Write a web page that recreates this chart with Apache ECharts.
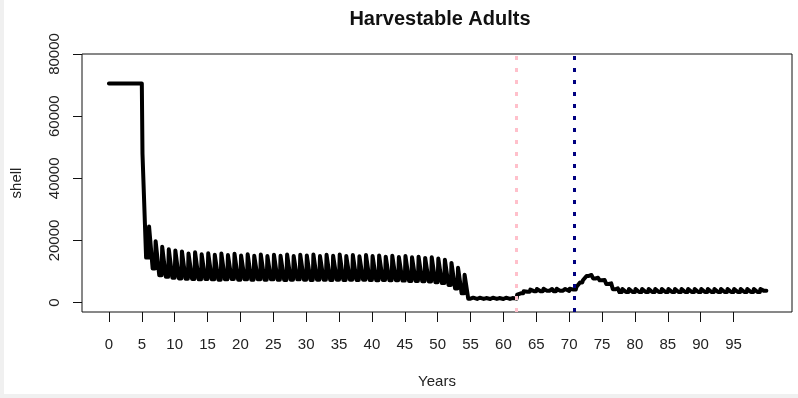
<!DOCTYPE html>
<html>
<head>
<meta charset="utf-8">
<script src="https://cdn.jsdelivr.net/npm/echarts@6/dist/echarts.min.js"></script>
<style>
  html, body { margin: 0; padding: 0; background: #f0f0f0; }
  #paper { position: absolute; left: 4px; top: 0; width: 794px; height: 394px; background: #fff; }
  #chart { position: absolute; left: 0; top: 0; width: 798px; height: 398px; }
</style>
</head>
<body>
<div id="paper"></div>
<div id="chart"></div>
<script>
// shell value at the start of each year (years 0..100)
const shellStart = [
  70500, 70500, 70500, 70500, 70500, 70500, 14500, 11000, 8800, 8300,
  8000, 7800, 7700, 7600, 7500, 7600, 7500, 7400, 7500, 7600,
  7400, 7500, 7400, 7500, 7400, 7500, 7400, 7300, 7400, 7500,
  7400, 7300, 7400, 7400, 7300, 7400, 7300, 7400, 7300, 7400,
  7300, 7200, 7300, 7200, 7200, 7100, 7000, 7000, 6900, 6800,
  6600, 6300, 5700, 4600, 3000, 1300, 1200, 1200, 1200, 1200,
  1200, 1200, 1300, 3000, 3500, 3700, 3700, 3800, 3700, 3800,
  3800, 4200, 6500, 8600, 7800, 7200, 6000, 4300, 3400, 3400,
  3400, 3400, 3400, 3400, 3400, 3400, 3400, 3400, 3400, 3400,
  3400, 3400, 3400, 3400, 3400, 3400, 3400, 3400, 3400, 3400,
  3800
];
// shell value just after the annual pulse of each year (years 0..99)
const shellPulse = [
  70500, 70500, 70500, 70500, 70500, 48000, 24500, 19800, 18000, 17200,
  16800, 16500, 15800, 16200, 15600, 15900, 15400, 15800, 15300, 15700,
  15200, 15600, 15100, 15500, 15000, 15400, 15100, 15500, 15000, 15400,
  15200, 15500, 15000, 15400, 15100, 15500, 15000, 15300, 14900, 15300,
  15000, 15200, 14800, 15100, 14700, 15000, 14600, 14800, 14400, 14600,
  14200, 13800, 12800, 11200, 9000, 1600, 1600, 1500, 1600, 1500,
  1600, 1500, 2600, 3700, 4200, 4400, 4500, 4400, 4500, 4400,
  4500, 5000, 7200, 8900, 8000, 7300, 6200, 4600, 4400, 4400,
  4400, 4400, 4400, 4400, 4400, 4400, 4400, 4400, 4400, 4400,
  4400, 4400, 4400, 4400, 4400, 4400, 4400, 4400, 4400, 4400
];
// timing within each year (fraction of a year)
const pulseAt = 0.1;   // pulse arrives
const holdUntil = 0.4; // pulse level held until here
const lowFrom = 0.65;  // next year's start level reached here
const yearTicks = [0, 5, 10, 15, 20, 25, 30, 35, 40, 45, 50, 55, 60, 65, 70, 75, 80, 85, 90, 95];
const shellTicks = [0, 20000, 40000, 60000, 80000];
const pinkYear = 61.9;
const navyYear = 70.8;

const lineData = [];
for (let k = 0; k < shellStart.length; k++) {
  lineData.push([k, shellStart[k]]);
  if (k < shellPulse.length) {
    lineData.push([k + pulseAt, shellPulse[k]]);
    lineData.push([k + holdUntil, shellPulse[k]]);
    lineData.push([k + lowFrom, shellStart[k + 1]]);
  }
}

const font = 'Liberation Sans, Arial, sans-serif';
const chart = echarts.init(document.getElementById('chart'), null, { renderer: 'canvas' });

chart.setOption({
  animation: false,
  backgroundColor: 'transparent',
  title: {
    text: 'Harvestable Adults',
    left: 435,
    top: 4,
    textAlign: 'center',
    textStyle: { fontFamily: font, fontSize: 20, fontWeight: 'bold', color: '#111' }
  },
  grid: {
    left: 82, right: 6, top: 54, bottom: 86,
    outerBoundsMode: 'none',
    containLabel: false,
    show: true, borderColor: '#111', borderWidth: 1, backgroundColor: 'transparent'
  },
  xAxis: {
    type: 'value',
    position: 'bottom',
    min: -4.1, max: 103.9,
    name: 'Years', nameLocation: 'middle', nameGap: 62,
    nameTextStyle: { fontFamily: font, fontSize: 15, color: '#222' },
    axisLine: { show: false, onZero: false },
    axisTick: { show: true, length: 10, lineStyle: { color: '#111' }, customValues: yearTicks },
    axisLabel: { customValues: yearTicks, margin: 25, fontFamily: font, fontSize: 15, color: '#222' },
    splitLine: { show: false }
  },
  yAxis: {
    type: 'value',
    position: 'left',
    min: -3000, max: 80000,
    name: 'shell', nameLocation: 'middle', nameGap: 58,
    nameTextStyle: { fontFamily: font, fontSize: 15, color: '#222' },
    axisLine: { show: false, onZero: false },
    axisTick: { show: true, length: 9, lineStyle: { color: '#111' }, customValues: shellTicks },
    axisLabel: {
      customValues: shellTicks, rotate: 90, margin: 20,
      formatter: v => String(v),
      fontFamily: font, fontSize: 15, color: '#222'
    },
    splitLine: { show: false }
  },
  series: [
    {
      type: 'line',
      data: lineData,
      showSymbol: false,
      lineStyle: { color: '#000', width: 4, join: 'round', cap: 'round' },
      silent: true
    },
    {
      type: 'line',
      data: [],
      z: 5,
      markLine: {
        silent: true,
        symbol: ['none', 'none'],
        label: { show: false },
        data: [
          { xAxis: pinkYear, lineStyle: { color: '#ffc0cb', width: 3, type: [4, 8] } },
          { xAxis: navyYear, lineStyle: { color: '#000080', width: 3, type: [4, 8] } }
        ]
      }
    }
  ]
});
</script>
</body>
</html>
